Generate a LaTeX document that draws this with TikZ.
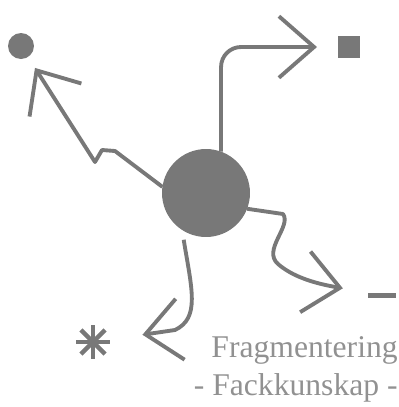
\documentclass[tikz,border=0pt]{standalone}
\usepackage{fontspec}
\setmainfont{Liberation Serif}
\usetikzlibrary{arrows.meta}
\definecolor{ink}{RGB}{120,120,120}
\definecolor{inklight}{RGB}{145,145,145}

\begin{document}
\begin{tikzpicture}[x=0.02cm, y=-0.02cm, font=\fontsize{18}{21.6}\selectfont,
  flow/.style={draw=ink, line width=2.2pt, line join=round, -{Straight Barb[length=20pt, width=35pt]}},
  blob/.style={circle, fill=ink, inner sep=0pt, outer sep=0pt},
  block/.style={rectangle, fill=ink, inner sep=0pt, outer sep=0pt},
  spoke/.style={draw=ink, line width=2.6pt},
  caption/.style={text=inklight, inner sep=0pt, anchor=base east}]
  \useasboundingbox (0,0) rectangle (399,407);
  \node[blob, minimum size=1.76cm] (hub) at (206,193) {};
  \node[blob, minimum size=0.52cm] (dot) at (21,46) {};
  \node[block, minimum size=0.44cm] (square) at (349,47) {};
  \node[block, minimum width=0.58cm, minimum height=0.1cm] (dash) at (382,295) {};
  \node[circle, minimum size=0.68cm, inner sep=0pt, outer sep=0pt] (star) at (93,342) {};
  \foreach \a in {0,45,...,315} \draw[spoke] (star.center) -- (star.\a);
  % four wandering arrows out of the hub
  \draw[flow, shorten >=0.26cm] (hub.172) -- (115,151) -- (102,150) -- (95,162) -- (dot);
  \draw[flow, rounded corners=0.4cm, shorten >=0.42cm] (hub.70) |- (square);
  \draw[flow, shorten <=0.2cm, shorten >=0.66cm] (hub.237) .. controls (192,290) and (200,318) .. (175,330) -- (star);
  \draw[flow, shorten >=0.5cm] (hub.339) -- (283,214) .. controls (292,226) and (262,250) .. (278,264)
    .. controls (292,276) and (312,283) .. (dash);
  \node[caption] (title) at (398,357) {Fragmentering};
  \node[caption] (subtitle) at (398,395) {- Fackkunskap -};
\end{tikzpicture}
\end{document}
